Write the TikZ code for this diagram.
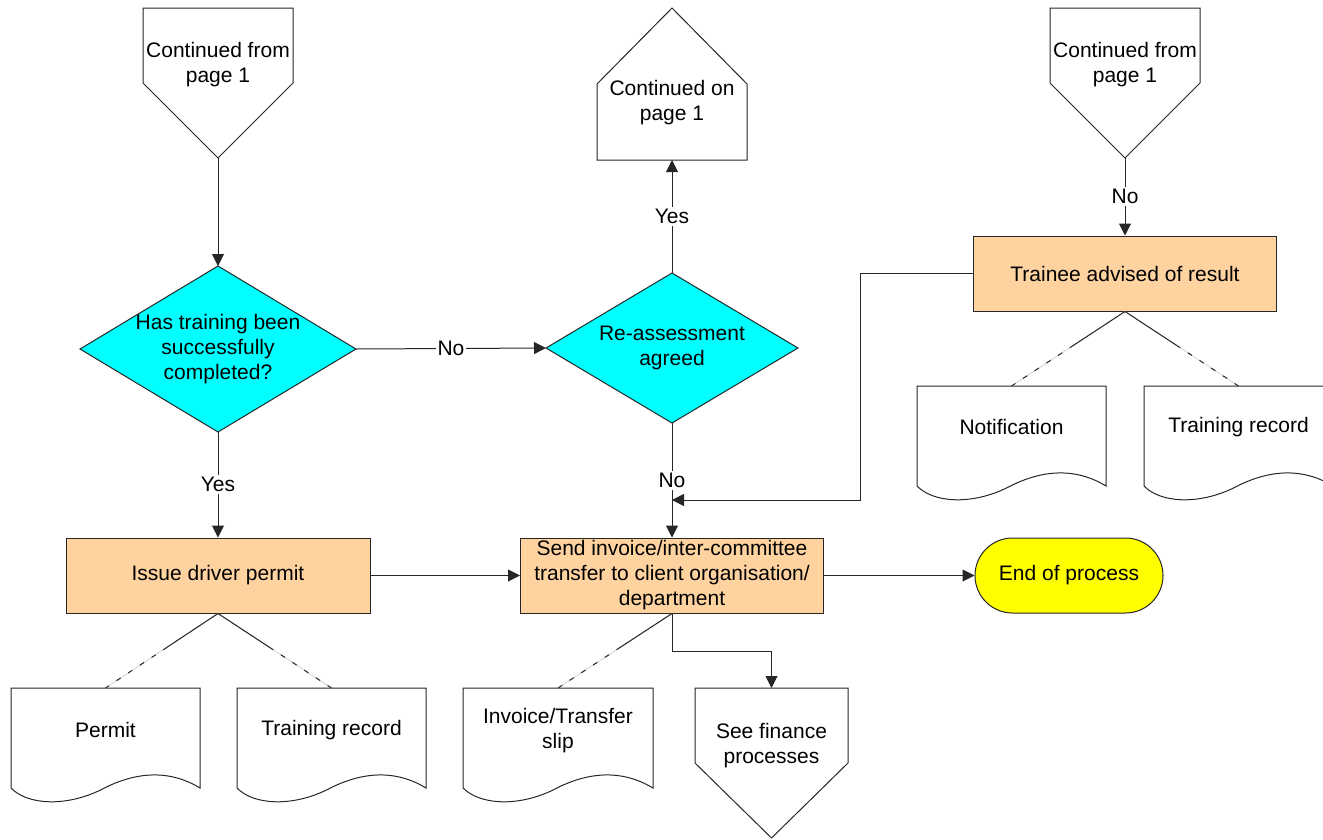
\documentclass[tikz,border=0pt]{standalone}
\usepackage{fontspec}
\setmainfont{Liberation Sans}
\usetikzlibrary{arrows.meta,calc,backgrounds}
\definecolor{peach}{RGB}{255,211,160}
\definecolor{aqua}{RGB}{0,255,255}
\definecolor{lemon}{RGB}{255,255,0}
\newcommand\docshape[1]{\draw[shapeline] (#1.north west) -- (#1.north east) -- (#1.south east)
  .. controls ([shift={(60,-21)}]#1.south) and ([shift={(25,-14)}]#1.south) .. ([shift={(-5,2)}]#1.south)
  .. controls ([shift={(-40,19)}]#1.south) and ([shift={(-78,17)}]#1.south) .. (#1.south west) -- cycle;}
\newcommand\docline[2]{\draw[docgray] (#1) -- (#2);
  \draw[docsolid] (#1) -- ($(#1)!0.45!(#2)$);
  \draw[docdash] ($(#1)!0.45!(#2)$) -- (#2);}
\begin{document}
\begin{tikzpicture}[x=1pt,y=-1pt,
  font=\fontsize{21pt}{25pt}\selectfont,
  every node/.style={align=center},
  box/.style={inner sep=0pt, outer sep=0pt},
  shapeline/.style={draw=black!85, line width=1pt, line join=miter},
  proc/.style={draw=black!85, line width=1pt, fill=peach, minimum width=303pt, minimum height=75pt, inner sep=2pt},
  term/.style={draw=black!85, line width=1pt, fill=lemon, rounded corners=37.5pt, minimum width=188pt, minimum height=75pt},
  decfill/.style={draw=black!85, line width=1pt, fill=aqua},
  arr/.style={-{Triangle[length=12pt,width=12pt]}, line width=1pt, draw=black!85},
  lab/.style={fill=white, inner sep=2pt},
  docsolid/.style={line width=1pt, black!85},
  docdash/.style={line width=1pt, black!85, dash pattern=on 5pt off 9pt},
  docgray/.style={line width=1pt, black!15}]
\useasboundingbox (0,0) rectangle (1323,839);

% off-page connectors
\node[box, minimum width=150pt, minimum height=150pt, label={[yshift=18.5pt]center:{Continued from\\page 1}}] (c1) at (218,83) {};
\node[box, minimum width=150pt, minimum height=152pt, label={[yshift=-18.5pt]center:{Continued on\\page 1}}] (c2) at (672,84) {};
\node[box, minimum width=150pt, minimum height=150pt, label={[yshift=18.5pt]center:{Continued from\\page 1}}] (c3) at (1125,83) {};
\node[box, minimum width=153pt, minimum height=150pt, label={[yshift=17.5pt]center:{See finance\\processes}}] (fin) at (771.5,763) {};
\draw[shapeline] (c1.north west) -- (c1.north east) -- (c1.east) -- (c1.south) -- (c1.west) -- cycle;
\draw[shapeline] (c3.north west) -- (c3.north east) -- (c3.east) -- (c3.south) -- (c3.west) -- cycle;
\draw[shapeline] (c2.north) -- (c2.east) -- (c2.south east) -- (c2.south west) -- (c2.west) -- cycle;
\draw[shapeline] (fin.north west) -- (fin.north east) -- (fin.east) -- (fin.south) -- (fin.west) -- cycle;

% decisions
\node[box, minimum width=276pt, minimum height=166pt] (d1) at (218,349) {Has training been\\successfully\\completed?};
\node[box, minimum width=252pt, minimum height=150pt] (d2) at (672,348) {Re-assessment\\agreed};
\begin{scope}[on background layer]
\draw[decfill] (d1.north) -- (d1.east) -- (d1.south) -- (d1.west) -- cycle;
\draw[decfill] (d2.north) -- (d2.east) -- (d2.south) -- (d2.west) -- cycle;
\end{scope}

% processes
\node[proc, minimum width=304pt] (issue) at (218,575.5) {Issue driver permit};
\node[proc] (send) at (672,575.5) {Send invoice/inter-committee\\transfer to client organisation/\\department};
\node[proc] (trainee) at (1125,273.5) {Trainee advised of result};
\node[term] (end) at (1069,575.5) {End of process};

% documents
\node[box, minimum width=189pt, minimum height=100pt, label={[yshift=8pt]center:Permit}] (permit) at (105.5,738) {};
\node[box, minimum width=189pt, minimum height=100pt, label={[yshift=8pt]center:Training record}] (tr1) at (331.5,738) {};
\node[box, minimum width=190pt, minimum height=100pt, label={[yshift=7pt]center:{Invoice/Transfer\\slip}}] (inv) at (558,738) {};
\node[box, minimum width=189pt, minimum height=100pt, label={[yshift=9pt]center:Notification}] (notif) at (1011.5,436) {};
\node[box, minimum width=189pt, minimum height=100pt, label={[yshift=9pt]center:Training record}] (tr2) at (1238.5,436) {};
\docshape{permit}
\docshape{tr1}
\docshape{inv}
\docshape{notif}
\docshape{tr2}

% connectors
\draw[arr] (c1.south) -- (d1.north);
\draw[arr] (d1.east) -- node[lab]{No} (d2.west);
\draw[arr] (d2.north) -- node[lab]{Yes} (c2.south);
\draw[arr] (d1.south) -- node[lab]{Yes} (issue.north);
\draw[arr] (d2.south) -- node[lab]{No} (send.north);
\draw[arr] (c3.south) -- node[lab]{No} (trainee.north);
\draw[arr] (issue.east) -- (send.west);
\draw[arr] (send.east) -- (end.west);
\coordinate (join) at (672,500);
\coordinate (bend) at (860,500);
\draw[arr] (trainee.west) -| (bend) -- (join);
\draw[arr] (send.south) -- ++(0,38) -| (fin.north);

% document links
\docline{issue.south}{permit.north}
\docline{issue.south}{tr1.north}
\docline{send.south}{inv.north}
\docline{trainee.south}{notif.north}
\docline{trainee.south}{tr2.north}
\end{tikzpicture}
\end{document}
